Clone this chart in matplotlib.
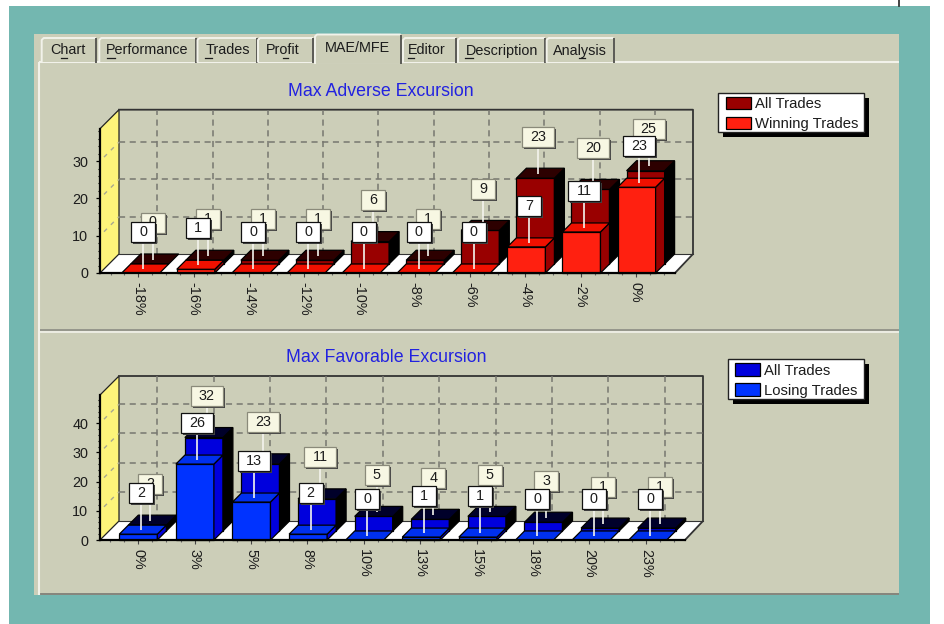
import matplotlib
matplotlib.use("Agg")
import matplotlib.pyplot as plt
from matplotlib.patches import Polygon, Rectangle, Patch
from matplotlib.transforms import Affine2D
from matplotlib.ticker import MultipleLocator

# ---------- data ----------
mae_cats = ["-18%", "-16%", "-14%", "-12%", "-10%", "-8%", "-6%", "-4%", "-2%", "0%"]
mae_all = [0, 1, 1, 1, 6, 1, 9, 23, 20, 25]
mae_win = [0, 1, 0, 0, 0, 0, 0, 7, 11, 23]
mfe_cats = ["0%", "3%", "5%", "8%", "10%", "13%", "15%", "18%", "20%", "23%"]
mfe_all = [2, 32, 23, 11, 5, 4, 5, 3, 1, 1]
mfe_los = [2, 26, 13, 2, 0, 1, 1, 0, 0, 0]
tabs = ["Chart", "Performance", "Trades", "Profit", "MAE/MFE", "Editor", "Description", "Analysis"]

W, H = 945, 624
FONT = "Liberation Sans"
plt.rcParams["font.family"] = [FONT, "DejaVu Sans"]
TXT = "#1c1c1c"
TEAL, PANEL, YELLOW = "#73b7b0", "#ccceb8", "#fdf47a"

fig = plt.figure(figsize=(W / 100, H / 100), dpi=100, facecolor="white")
px = Affine2D().scale(1, -1).translate(0, H)


def fr(l, t, r, b):
    return [l / W, 1 - b / H, (r - l) / W, (b - t) / H]


# ---------- window chrome (pixel space) ----------
bg = fig.add_axes([0, 0, 1, 1], zorder=0)
bg.set_xlim(0, W)
bg.set_ylim(H, 0)
bg.axis("off")
bg.add_patch(Rectangle((9, 6), 921, H - 6, fc=TEAL, ec="none"))
bg.plot([899, 899], [0, 6], color="#222222", lw=1.2)
bg.add_patch(Rectangle((34, 34), 865, 561, fc=PANEL, ec="none"))
bg.plot([40, 899], [594.2, 594.2], color="#85857c", lw=1.4, solid_capstyle="butt")
bg.plot([39, 39], [62, 595], color="#f2f2ea", lw=1.5, solid_capstyle="butt")
bg.plot([39, 899], [62, 62], color="#f2f2ea", lw=1.5, solid_capstyle="butt")
bg.plot([40, 899], [329.5, 329.5], color="#8c8c84", lw=1.2, solid_capstyle="butt")
bg.plot([40, 899], [331.5, 331.5], color="#f2f2ea", lw=1.2, solid_capstyle="butt")

tab_l = [41.7, 99.3, 197.5, 258, 315, 403, 458, 546.7]
tab_r = [96, 195.5, 256.7, 313, 400.7, 456, 545, 613.5]
tab_c = [68, 147, 227.5, 283, 357, 427, 502, 580]
tab_u = [(60.7, 67), (107, 115), (205, 212), (283, 287.5), None, (408, 414), (465, 473), (579, 585)]
for i, name in enumerate(tabs):
    active = name == "MAE/MFE"
    t = 34.5 if active else 38
    b = 63 if active else 61.5
    l, r = tab_l[i], tab_r[i]
    bg.add_patch(Rectangle((l, t), r - l, b - t, fc=PANEL, ec="none", zorder=3))
    bg.plot([l, l, l + 2, r - 1], [b, t + 2, t, t], color="#f2f2ea", lw=1.4, zorder=4)
    bg.plot([r, r], [t + 1, b], color="#5a5a55", lw=1.4, zorder=4)
    bg.text(tab_c[i], 47.5 if active else 50.5, name, ha="center", va="center",
            fontsize=10.4, color=TXT, zorder=5)
    if tab_u[i]:
        bg.plot(tab_u[i], [57.5, 57.5], color=TXT, lw=0.9, zorder=5)


def legend_frame(l, t, r, b):
    bg.add_patch(Rectangle((l + 5, t + 5), r - l, b - t, fc="black", ec="none"))
    bg.add_patch(Rectangle((l, t), r - l, b - t, fc="white", ec="#222222", lw=1))


def chart(left, right, top, bottom, sx, sy, tick0, offs, cats, all_v, sub_v, back_r,
          title, title_xy, labels, colors, swatch_xy, frame, xpad, ytop_major):
    ax = fig.add_axes(fr(left, top, right, bottom), zorder=1)
    ax.patch.set_alpha(0)
    ax.set_xlim((left - tick0) / sx, (right - tick0) / sx)
    ax.set_ylim(0, (bottom - top) / sy)
    ax.autoscale(False)

    def P(x, y, dx=0.0, up=0.0):
        """data point shifted by screen pixels (dx right, up)."""
        return (x + dx / sx, y + up / sy)

    xl, xr = ax.get_xlim()
    ymax = ax.get_ylim()[1]
    D = 19
    DX_R = back_r - right
    kw = dict(clip_on=False)

    # floor + walls
    ax.add_patch(Polygon([P(xl, 0), P(xr, 0), P(xr, 0, DX_R, D), P(xl, 0, D, D)], fc="white",
                         ec="none", zorder=1, **kw))
    ax.add_patch(Polygon([P(xl, 0), P(xl, ymax), P(xl, ymax, D, D), P(xl, 0, D, D)], fc=YELLOW,
                         ec="#222222", lw=0.9, zorder=1, **kw))
    ax.plot(*zip(P(xl, ymax, D, D), P(xr, ymax, DX_R, D), P(xr, 0, DX_R, D), P(xr, 0)),
            color="#333333", lw=1.3, zorder=1, **kw)
    ax.plot(*zip(P(xl, 0, D, D), P(xr, 0, DX_R, D)), color="#333333", lw=0.8, zorder=1, **kw)
    # grid
    grid = dict(color="#77776f", lw=1.1, dashes=(4, 3), zorder=1.5, **kw)
    wall = dict(color="#a8a890", lw=1.0, dashes=(3, 4), zorder=1.5, **kw)
    for i in range(len(cats)):
        ax.plot(*zip(P(i, 0, D, D), P(i, ymax, D, D)), **grid)
    for v in range(10, int(ymax), 10):
        ax.plot(*zip(P(xl, v, D, D), P(xr, v, DX_R, D)), **grid)
        ax.plot(*zip(P(xl, v, 4, 4), P(xl, v, D, D)), **wall)

    c_all_f, c_all_t, c_sub_f, c_sub_t, c_sub_s = colors
    w = 38.0
    edge = dict(ec="black", lw=0.9, joinstyle="miter", **kw)

    def box(i, v, off, lift, d, face, topc, side, z):
        x0 = P(i, 0, off - w / 2)[0]
        x1 = P(i, 0, off + w / 2)[0]
        if v > 0:
            ax.add_patch(Polygon([P(x0, 0, 0, lift), P(x1, 0, 0, lift), P(x1, v, 0, lift), P(x0, v, 0, lift)],
                                 fc=face, zorder=z, **edge))
            ax.add_patch(Polygon([P(x1, 0, 0, lift), P(x1, 0, d, lift + d), P(x1, v, d, lift + d), P(x1, v, 0, lift)],
                                 fc=side, zorder=z, **edge))
        ax.add_patch(Polygon([P(x0, v, 0, lift), P(x1, v, 0, lift), P(x1, v, d, lift + d), P(x0, v, d, lift + d)],
                             fc=topc, zorder=z, **edge))

    for i in range(len(cats)):
        base = 2 + i * 0.002
        # rear series: its front face sits 9px into the depth
        box(i, all_v[i], offs[i] + 9, 9, 10, c_all_f, c_all_t, "black", base)
        box(i, sub_v[i], offs[i], 0, 9, c_sub_f, c_sub_t, c_sub_s, base + 0.001)

    def mark(i, v, off, lift, fc, ec, z):
        s = str(v)
        bw = 24 if len(s) == 1 else 32
        ax_, ay_ = P(i, v, off, lift)
        bx, by = P(ax_, ay_, 0, 27)
        ax.plot([ax_, bx], [ay_, by], color="#f4f4ee", lw=1.2, zorder=z, solid_capstyle="butt", **kw)
        ll = P(bx, by, -bw / 2, 0)
        ax.add_patch(Rectangle(P(ll[0], ll[1], 2, -2), bw / sx, 20 / sy, fc="#444444", ec="none", zorder=z, **kw))
        ax.add_patch(Rectangle(ll, bw / sx, 20 / sy, fc=fc, ec=ec, lw=0.9, zorder=z + 0.01, **kw))
        ax.text(bx, P(bx, by, 0, 10)[1], s, ha="center", va="center", fontsize=10.4,
                color=TXT, zorder=z + 0.02, **kw)

    for i in range(len(cats)):
        mark(i, all_v[i], offs[i] + 12, 13.5, "#f7f7e3", "#8a8a7a", 5)
    for i in range(len(cats)):
        mark(i, sub_v[i], offs[i] + 2.5, 4, "white", "#111111", 6)

    # axes
    for s in ("top", "right"):
        ax.spines[s].set_visible(False)
    for s in ("left", "bottom"):
        ax.spines[s].set_linewidth(1.6)
        ax.spines[s].set_color("black")
        ax.spines[s].set_zorder(4)
    ax.set_xticks(range(len(cats)))
    ax.set_xticklabels(cats, rotation=270, ha="center", va="top", fontsize=10.4, color=TXT)
    ax.xaxis.set_minor_locator(MultipleLocator(0.25))
    ax.set_yticks(range(0, ytop_major + 1, 10))
    ax.yaxis.set_minor_locator(MultipleLocator(2))
    ax.tick_params(axis="x", which="major", length=3, width=0.8, color="#444444", pad=xpad)
    ax.tick_params(axis="x", which="minor", length=1.5, width=0.8, color="#666666")
    ax.tick_params(axis="y", which="major", length=3, width=0.9, pad=5.5, labelsize=10.4, labelcolor=TXT)
    ax.tick_params(axis="y", which="minor", length=1.5, width=0.8)

    # title, legend
    bg.text(*title_xy, title, ha="center", va="center", fontsize=12.8, color="#2222e0")
    legend_frame(*frame)
    handles = [Patch(fc=c_all_f, ec="black", lw=0.9, label=labels[0]),
               Patch(fc=c_sub_f, ec="black", lw=0.9, label=labels[1])]
    ax.legend(handles=handles, frameon=False, loc="upper left", bbox_to_anchor=swatch_xy,
              bbox_transform=px, borderpad=0, borderaxespad=0, handlelength=1.66, handleheight=0.9,
              handletextpad=0.26, labelspacing=0.38, prop=dict(size=10.7), labelcolor=TXT)


chart(100, 675, 128.7, 273, 55.3, 3.73, 138.3, [2.4 - 0.2 * i for i in range(10)],
      mae_cats, mae_all, mae_win, 693, "Max Adverse Excursion", (381, 91.5),
      ("All Trades", "Winning Trades"),
      ("#990000", "#2d0000", "#ff2010", "#f01000", "#990000"),
      (726, 97), (718.3, 93.3, 864.3, 132.3), 3.4, 30)

chart(100, 685, 395, 540, 56.4, 2.92, 138.3, [0.2 * i for i in range(10)],
      mfe_cats, mfe_all, mfe_los, 703, "Max Favorable Excursion", (386, 358),
      ("All Trades", "Losing Trades"),
      ("#0000dd", "#00002a", "#0033ff", "#0030ee", "#0000dd"),
      (735.3, 363.3), (727.7, 359, 864.3, 399), 3.4, 40)

fig.savefig("out.png", dpi=100, facecolor="white")
